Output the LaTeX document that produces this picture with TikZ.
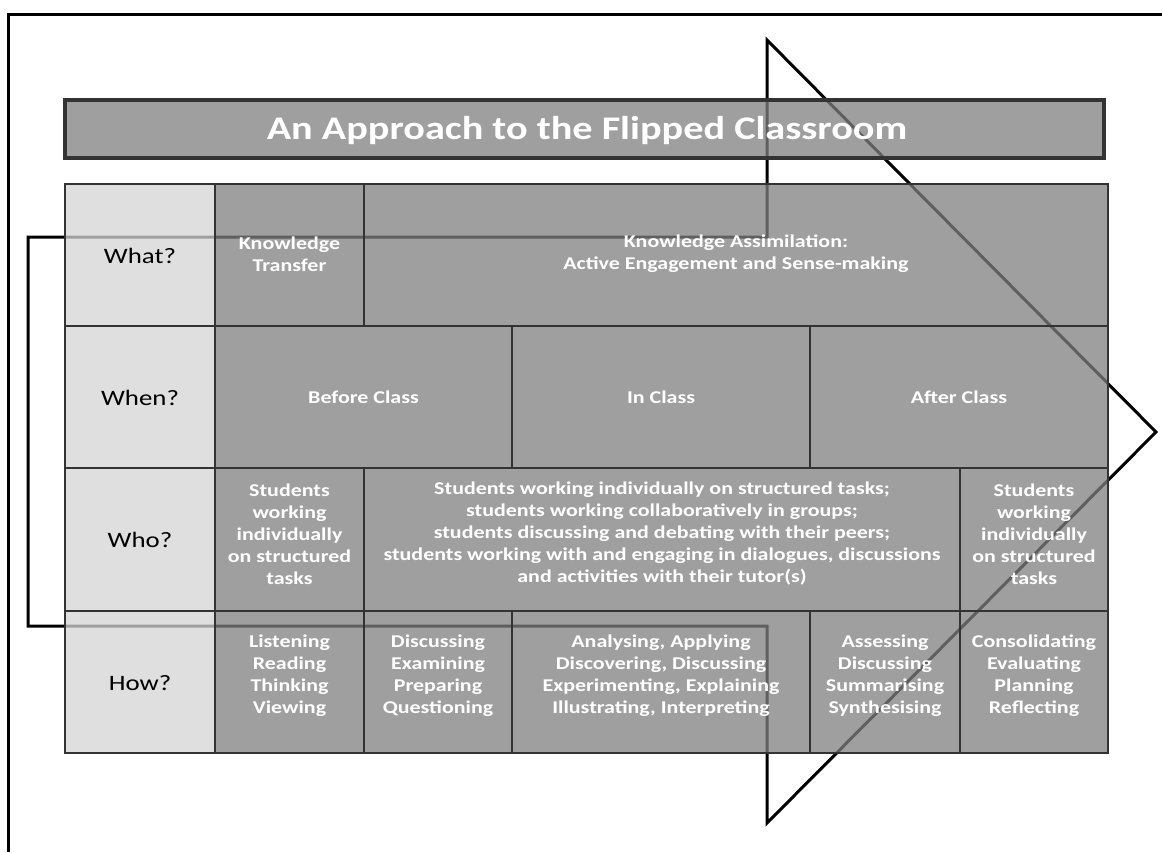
\documentclass[tikz,border=0pt]{standalone}
\usepackage{fontspec}
\setmainfont{Carlito}[FakeStretch=1.22]
\begin{document}
\begin{tikzpicture}[x=1pt,y=-1pt,
  frameline/.style={line width=3pt,line join=miter},
  cellfill/.style={fill=black!50,fill opacity=0.75},
  labelfill/.style={fill=black!16.5,fill opacity=0.75},
  gridline/.style={draw=black!80,line width=1.2pt},
  celltext/.style={text=white,align=center,font=\fontsize{18}{22}\selectfont\bfseries,inner sep=0pt},
  labeltext/.style={text=black,align=center,font=\fontsize{22}{26}\selectfont,inner sep=0pt}]
\useasboundingbox (0,0) rectangle (1162,852);
\fill[white] (0,0) rectangle (1162,852);
\draw[frameline] (8,852) -- (8,14) -- (1162,14);
\draw[frameline] (28,237) -- (767,237) -- (767,40) -- (1156,432) -- (767,823) -- (767,626) -- (28,626) -- cycle;
\fill[cellfill] (65,100) rectangle (1104,158);
\draw[line width=4.5pt,draw=black!80] (65,100) rectangle (1104,158);
\node[text=white,font=\fontsize{33}{40}\selectfont\bfseries,inner sep=0pt] (title) at (587,131) {An Approach to the Flipped Classroom};
\fill[labelfill] (65,184) rectangle (215,753);
\fill[cellfill] (215,184) rectangle (1108,753);
\draw[gridline] (65,184) rectangle (1108,753);
\draw[gridline] (65,326) -- (1108,326);
\draw[gridline] (65,468) -- (1108,468);
\draw[gridline] (65,611) -- (1108,611);
\draw[gridline] (215,184) -- (215,753);
\draw[gridline] (364,184) -- (364,326);
\draw[gridline] (512,326) -- (512,468);
\draw[gridline] (810,326) -- (810,468);
\draw[gridline] (364,468) -- (364,753);
\draw[gridline] (960,468) -- (960,753);
\draw[gridline] (512,611) -- (512,753);
\draw[gridline] (810,611) -- (810,753);
\node[labeltext] (what) at (140,256) {What?};
\node[labeltext] (when) at (140,398) {When?};
\node[labeltext] (who) at (140,540) {Who?};
\node[labeltext] (how) at (140,683) {How?};
\node[celltext] (transfer) at (289.5,254) {Knowledge\\Transfer};
\node[celltext] (assim) at (736,254) {Knowledge Assimilation:\\Active Engagement and Sense-making};
\node[celltext] (before) at (363.5,397) {Before Class};
\node[celltext] (inclass) at (661,397) {In Class};
\node[celltext] (after) at (959,397) {After Class};
\node[celltext] (whofirst) at (289.5,534) {Students\\working\\individually\\on structured\\tasks};
\node[celltext] (whomid) at (662,534) {Students working individually on structured tasks;\\students working collaboratively in groups;\\students discussing and debating with their peers;\\students working with and engaging in dialogues, discussions\\and activities with their tutor(s)};
\node[celltext] (wholast) at (1034,534) {Students\\working\\individually\\on structured\\tasks};
\node[celltext] (listen) at (289.5,676) {Listening\\Reading\\Thinking\\Viewing};
\node[celltext] (discuss) at (438,676) {Discussing\\Examining\\Preparing\\Questioning};
\node[celltext] (analyse) at (661,676) {Analysing, Applying\\Discovering, Discussing\\Experimenting, Explaining\\Illustrating, Interpreting};
\node[celltext] (assess) at (885,676) {Assessing\\Discussing\\Summarising\\Synthesising};
\node[celltext] (consol) at (1034,676) {Consolidating\\Evaluating\\Planning\\Reflecting};
\end{tikzpicture}
\end{document}
